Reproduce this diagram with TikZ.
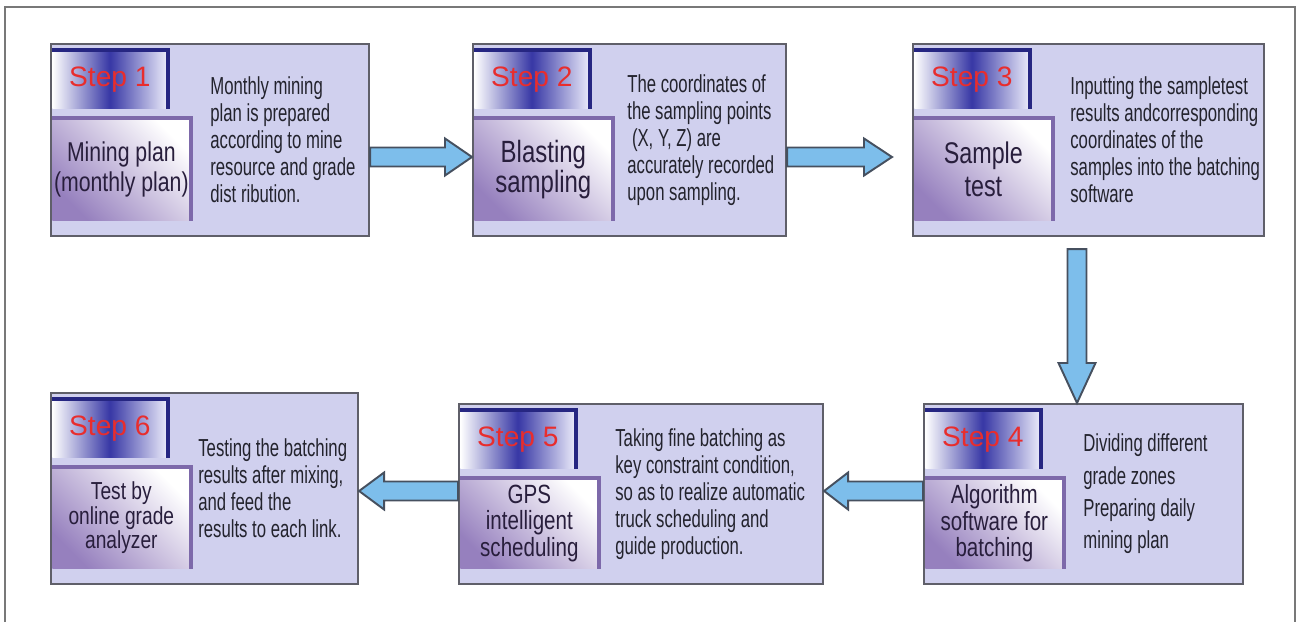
\documentclass[tikz,border=0pt]{standalone}
\usepackage{fontspec}
\setmainfont{Liberation Sans}
\newfontfamily\labfont[FakeStretch=0.78]{Liberation Sans}
\newfontfamily\descfont[FakeStretch=0.68]{Liberation Sans}
\usetikzlibrary{calc}

\definecolor{boxfill}{RGB}{208,208,238}
\definecolor{boxline}{RGB}{95,95,105}
\definecolor{tabnavy}{RGB}{38,38,130}
\definecolor{tabmid}{RGB}{55,55,165}
\definecolor{tabright}{RGB}{235,235,250}
\definecolor{labpurple}{RGB}{150,128,190}
\definecolor{labrim}{RGB}{125,105,170}
\definecolor{labtext}{RGB}{40,30,60}
\definecolor{desctext}{RGB}{35,35,45}
\definecolor{stepred}{RGB}{232,45,45}
\definecolor{arrowfill}{RGB}{125,190,235}
\definecolor{arrowline}{RGB}{70,80,95}
\definecolor{framegray}{RGB}{120,120,120}

\tikzset{
	stepframe/.style={draw=boxline, line width=1.2pt, fill=boxfill, inner sep=0pt},
	steptab/.style={left color=white, right color=tabright, middle color=tabmid,
		minimum width=115*0.02cm, minimum height=58*0.02cm, inner sep=0pt,
		font=\fontsize{16}{16}\selectfont, text=stepred},
	tabedge/.style={draw=tabnavy, line width=2.5pt},
	steplabel/.style={left color=labpurple, right color=white, shading angle=135,
		minimum width=138*0.02cm, inner sep=0pt, align=center, text=labtext},
	labedge/.style={draw=labrim, line width=2.5pt},
	stepdesc/.style={align=left, inner sep=0pt, text=desctext,
		font=\descfont\fontsize{14}{15.4}\selectfont},
	flowarrow/.style={draw=arrowline, line width=1.1pt, fill=arrowfill, line join=miter}
}

% name, top left corner, width, height, step, label font, label, description, text offset
\newcommand{\stepbox}[9]{
	\node[stepframe, minimum width=#3*0.02cm, minimum height=#4*0.02cm, anchor=north west] (#1) at (#2) {};
	\node[steptab, anchor=north west] (#1tab) at ([shift={(2,7)}]#1.north west) {Step #5};
	\draw[tabedge] (#1tab.north west) -- (#1tab.north east) -- (#1tab.south east);
	\node[steplabel, minimum height=(#4-90)*0.02cm, anchor=north west, font={\labfont#6}]
		(#1lab) at ([shift={(2,75)}]#1.north west) {#7};
	\draw[labedge] (#1lab.north west) -- (#1lab.north east) -- (#1lab.south east);
	\node[stepdesc, anchor=west] (#1txt) at ([xshift=#9*0.02cm]#1.west) {#8};
}

% from, to, head length
\newcommand{\blockarrow}[3]{
	\coordinate (ta) at (#1);
	\coordinate (tb) at (#2);
	\coordinate (hb) at ($(tb)!#3!(ta)$);
	\draw[flowarrow] ($(ta)!0.19cm!90:(tb)$) -- ($(hb)!0.19cm!90:(tb)$)
		-- ($(hb)!0.37cm!90:(tb)$) -- (tb) -- ($(hb)!0.37cm!-90:(tb)$)
		-- ($(hb)!0.19cm!-90:(tb)$) -- ($(ta)!0.19cm!-90:(tb)$) -- cycle;
}

\begin{document}
\begin{tikzpicture}[x=0.02cm, y=-0.02cm]
\useasboundingbox (0,0) rectangle (1301,622);

% outer frame
\draw[framegray, line width=1pt] (5,622) -- (5,7) -- (1295,7) -- (1295,622);

% upper row
\stepbox{b1}{50,43}{318}{192}{1}{\fontsize{15.5}{17.5}\selectfont}
	{Mining plan\\(monthly plan)}
	{Monthly mining\\plan is prepared\\according to mine\\resource and grade\\dist ribution.}{160}
\stepbox{b2}{472,43}{313}{192}{2}{\fontsize{17.5}{17}\selectfont}
	{Blasting\\sampling}
	{The coordinates of\\the sampling points\\\ (X, Y, Z) are\\accurately recorded\\upon sampling.}{155}
\stepbox{b3}{912,43}{351}{192}{3}{\fontsize{17}{19}\selectfont}
	{Sample\\test}
	{Inputting the sampletest\\results andcorresponding\\coordinates of the\\samples into the batching\\software}{158}

% lower row
\stepbox{b4}{923,403}{319}{180}{4}{\fontsize{15}{15.2}\selectfont}
	{Algorithm\\software for\\batching}
	{Dividing different\\[3pt]grade zones\\[3pt]Preparing daily\\[3pt]mining plan}{160}
\stepbox{b5}{458,403}{364}{180}{5}{\fontsize{15}{15.2}\selectfont}
	{GPS\\intelligent\\scheduling}
	{Taking fine batching as\\key constraint condition,\\so as to realize automatic\\truck scheduling and\\guide production.}{157}
\stepbox{b6}{50,392}{307}{191}{6}{\fontsize{14}{14}\selectfont}
	{Test by\\online grade\\analyzer}
	{Testing the batching\\results after mixing,\\and feed the\\results to each link.}{148}

% flow arrows
\coordinate (rowa) at (0,157);
\coordinate (rowb) at (0,491);
\coordinate (colc) at (1077,0);
\blockarrow{b1.east |- rowa}{b2.west |- rowa}{0.54cm}
\blockarrow{b2.east |- rowa}{$(b3.west |- rowa)+(-20,0)$}{0.56cm}
\blockarrow{$(b3.south -| colc)+(0,12)$}{b4.north -| colc}{0.8cm}
\blockarrow{b4.west |- rowb}{b5.east |- rowb}{0.48cm}
\blockarrow{b5.west |- rowb}{b6.east |- rowb}{0.5cm}

\end{tikzpicture}
\end{document}
